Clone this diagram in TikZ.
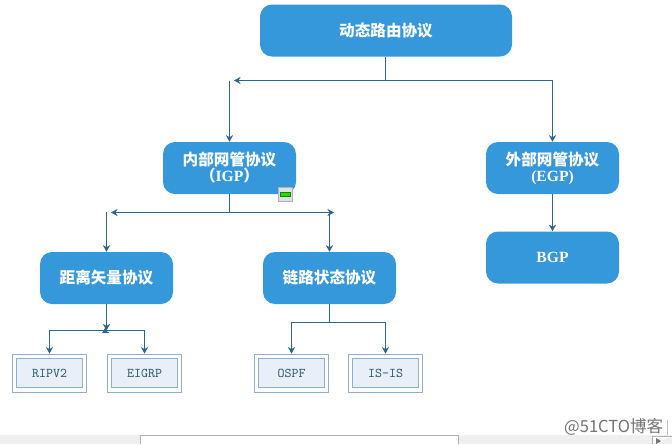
\documentclass[tikz,border=0pt]{standalone}
\usepackage{fontspec}
\newfontfamily\cjk{Noto Sans CJK SC}
\newfontfamily\latinbold{Liberation Serif}
\usetikzlibrary{arrows.meta}
\definecolor{boxblue}{HTML}{3498DB}
\definecolor{linkblue}{HTML}{2F6690}
\definecolor{leafline}{HTML}{8FB0CC}
\definecolor{leaffill}{HTML}{E8EFF9}
\definecolor{leaftext}{HTML}{2F5573}
\definecolor{barfill}{HTML}{EFEFEF}
\newcommand{\lat}[1]{{\latinbold\bfseries #1}}
\tikzset{
  x=0.75pt,y=-0.75pt,
  proto/.style={draw=none,fill=boxblue,rounded corners=9pt,minimum width=99.75pt,minimum height=39pt,inner sep=0pt,align=center,text=white,font=\cjk\bfseries\fontsize{11.7}{12}\selectfont},
  leaf/.style={draw=leafline,fill=leaffill,line width=0.6pt,minimum width=49.5pt,minimum height=22pt,inner sep=0pt,text=leaftext,font=\ttfamily\fontsize{10}{11}\selectfont},
  leafframe/.style={draw=leafline,line width=0.6pt,fill=white,minimum width=56pt,minimum height=28.5pt,inner sep=0pt},
  link/.style={draw=linkblue,line width=0.75pt},
  linkarrow/.style={link,-{Stealth[length=5pt,width=5.5pt]}},
}
\begin{document}
\begin{tikzpicture}
\useasboundingbox (0,0) rectangle (672,444);
% status bar along the bottom
\fill[barfill] (0,435) rectangle (672,444);
\draw[fill=white,draw=black!30,line width=0.5pt] (140.5,444) -- (140.5,435.5) -- (458.5,435.5) -- (458.5,444);
\draw[draw=black!30,fill=white,line width=0.5pt] (652.5,444) -- (652.5,436.5) -- (672,436.5);
\fill[black!55] (656,438) -- (661,441) -- (656,444) -- cycle;
\draw[draw=black!25,line width=0.5pt] (667.5,420) -- (667.5,435);
% main tree
\node[proto,minimum width=189pt] (routing) at (386,30.5) {动态路由协议};
\node[proto] (igp) at (229.5,168) {内部网管协议\\（\lat{IGP}）};
\node[proto] (egp) at (552.5,168) {外部网管协议\\\lat{(EGP)}};
\node[proto] (bgp) at (552.5,257.5) {\lat{BGP}};
\node[proto] (dist) at (106.5,278) {距离矢量协议};
\node[proto] (state) at (329.5,278) {链路状态协议};
% leaves
\node[leafframe] (ripframe) at (49.5,373) {};
\node[leaf] (rip) at (49.5,373) {RIPV2};
\node[leafframe] (eigrpframe) at (144.5,373) {};
\node[leaf] (eigrp) at (144.5,373) {EIGRP};
\node[leafframe] (ospfframe) at (291.5,373) {};
\node[leaf] (ospf) at (291.5,373) {OSPF};
\node[leafframe] (isisframe) at (385.5,373) {};
\node[leaf] (isis) at (385.5,373) {IS-IS};
% junctions
\coordinate (topjoin) at (385.5,80.5);
\coordinate (topleft) at (234,80.5);
\coordinate (igpdrop) at (229.5,80.5);
\coordinate (topright) at (552.5,80.5);
\coordinate (igpjoin) at (229.5,212.5);
\coordinate (igpleft) at (111,212.5);
\coordinate (igpright) at (334,212.5);
\coordinate (distdrop) at (106.5,212);
\coordinate (statedrop) at (329.5,214);
\coordinate (distjoin) at (106.5,330.5);
\coordinate (riptop) at (49.5,330.5);
\coordinate (eigrptop) at (144.5,330.5);
\coordinate (distmark) at (102,333);
\coordinate (statejoin) at (329.5,322.5);
\coordinate (ospftop) at (291.5,322.5);
\coordinate (isistop) at (385.5,322.5);
\draw[link] (routing.south -| topjoin) -- (topjoin);
\draw[linkarrow] (topright) -- (topleft);
\draw[linkarrow] (topright) -- (egp.north -| topright);
\draw[linkarrow] (igpdrop) -- (igp.north -| igpdrop);
\draw[link] (igp.south -| igpjoin) -- (igpjoin);
\draw[linkarrow] (igpjoin) -- (igpleft);
\draw[linkarrow] (igpjoin) -- (igpright);
\draw[linkarrow] (distdrop) -- (dist.north -| distdrop);
\draw[linkarrow] (statedrop) -- (state.north -| statedrop);
\draw[linkarrow] (egp.south -| topright) -- (bgp.north -| topright);
\draw[linkarrow] (dist.south -| distjoin) -- (distjoin);
\draw[linkarrow] (distjoin) -- (distmark);
\draw[linkarrow] (distjoin) -- (riptop) -- (ripframe.north -| riptop);
\draw[linkarrow] (distjoin) -- (eigrptop) -- (eigrpframe.north -| eigrptop);
\draw[link] (state.south -| statejoin) -- (statejoin);
\draw[linkarrow] (statejoin) -- (ospftop) -- (ospfframe.north -| ospftop);
\draw[linkarrow] (statejoin) -- (isistop) -- (isisframe.north -| isistop);
% note icon on the IGP box
\node[draw=black!30,fill=black!12,minimum width=10.5pt,minimum height=10.5pt,inner sep=0pt] (note) at (285.5,194.5) {};
\node[draw=green!55!black,fill=green!80!black!80!yellow,minimum width=7.5pt,minimum height=3pt,inner sep=0pt] (notebar) at (285.5,194.5) {};
% watermark
\node[text=black!55,inner sep=0pt,anchor=east,font=\fontsize{12.4}{13}\selectfont\cjk] (mark) at (663.5,426.5) {@51CTO博客};
\end{tikzpicture}
\end{document}
